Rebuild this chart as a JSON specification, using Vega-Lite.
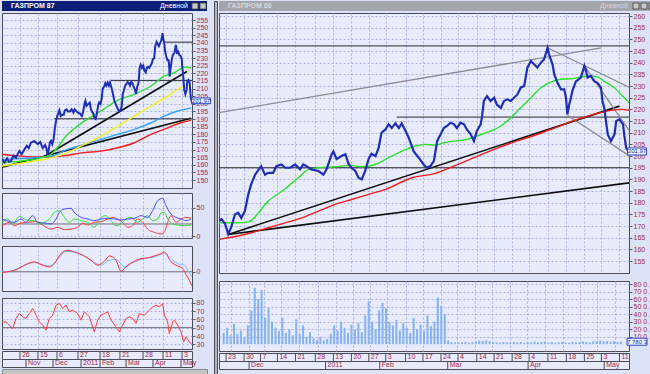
{
"$schema": "https://vega.github.io/schema/vega-lite/v6.json",
"background": "#dde3f6",
"padding": {"left": 1, "top": 0, "right": 0, "bottom": 0},
"spacing": 0,
"datasets": {
"px": [{"i":0,"v":163.8},{"i":2,"v":161.5},{"i":4,"v":164.2},{"i":5.5,"v":162},{"i":7.1,"v":162.5},{"i":9,"v":166},{"i":11,"v":164.6},{"i":12.5,"v":167.5},{"i":13.6,"v":169},{"i":15.5,"v":167},{"i":17.5,"v":170},{"i":19.5,"v":172.5},{"i":21,"v":171},{"i":22.7,"v":174.5},{"i":25.3,"v":175.6},{"i":28,"v":173.6},{"i":30,"v":175},{"i":31.9,"v":171},{"i":33,"v":172},
{"i":33.8,"v":173},{"i":34.8,"v":171},{"i":35.7,"v":166.6},{"i":36.5,"v":169.3},{"i":37.6,"v":175},{"i":38.5,"v":175.7},{"i":39.4,"v":173.5},{"i":40.4,"v":176.4},{"i":41.4,"v":183.7},{"i":42.2,"v":188},{"i":43.3,"v":192},{"i":45,"v":195.7},{"i":46.1,"v":192},{"i":47,"v":192.8},{"i":48.4,"v":192.8},{"i":49.3,"v":195.7},{"i":50.7,"v":196.4},{"i":51.8,"v":195},{"i":53.2,"v":195},{"i":54.6,"v":196.4},{"i":56,"v":194.3},{"i":56.9,"v":196.4},{"i":57.8,"v":195.7},{"i":59.2,"v":194.3},{"i":61.2,"v":193.6},{"i":62.6,"v":192},{"i":63.5,"v":194.4},{"i":64.9,"v":200.7},{"i":65.4,"v":202},{"i":66.3,"v":198.7},{"i":67.7,"v":200},{"i":68.8,"v":200.8},{"i":69.7,"v":196.6},{"i":70.5,"v":195},{"i":71.6,"v":193.6},{"i":72.5,"v":190.7},{"i":73.4,"v":190},{"i":74.4,"v":193.6},{"i":75.4,"v":199},{"i":76.2,"v":201},{"i":77.3,"v":200},{"i":78.2,"v":203.6},{"i":79,"v":210},{"i":80.1,"v":211.4},{"i":81,"v":213.6},{"i":81.9,"v":212},{"i":82.9,"v":214},{"i":83.9,"v":212},{"i":84.7,"v":214},{"i":85.8,"v":210.7},{"i":86.7,"v":207.8},{"i":88.1,"v":202},{"i":89.5,"v":199.3},{"i":90.9,"v":196.4},{"i":91.8,"v":195},{"i":92.8,"v":195.7},{"i":93.8,"v":197.9},{"i":94.7,"v":206.4},{"i":95.7,"v":209.3},{"i":96.6,"v":212},{"i":97.5,"v":212.9},{"i":98.5,"v":214.3},{"i":99.4,"v":213.7},{"i":100.3,"v":212},{"i":101.3,"v":214.3},{"i":102.3,"v":213.6},{"i":103.1,"v":211.4},{"i":104.2,"v":209.3},{"i":105.1,"v":206.4},{"i":105.9,"v":210.7},{"i":107,"v":213.6},{"i":107.4,"v":217},{"i":107.9,"v":223.6},{"i":108.8,"v":225.7},{"i":109.8,"v":223.6},{"i":110.8,"v":225},{"i":111.6,"v":222},{"i":112.7,"v":220.7},{"i":113.6,"v":223.6},{"i":114.5,"v":224.3},{"i":115.5,"v":223.6},{"i":116.4,"v":225},{"i":117.4,"v":226.4},{"i":118.3,"v":229.3},{"i":119.3,"v":230},{"i":120.2,"v":237.9},{"i":121.2,"v":240.7},{"i":122.1,"v":239.3},{"i":123,"v":237.9},{"i":124,"v":240},{"i":124.9,"v":241.4},{"i":125.9,"v":246.4},{"i":126.3,"v":243.6},{"i":127.3,"v":239.3},{"i":127.8,"v":235},{"i":128.7,"v":231.4},{"i":129.7,"v":228.6},{"i":130.6,"v":228.6},{"i":131.1,"v":225},{"i":131.5,"v":217.9},{"i":132,"v":222},{"i":132.5,"v":225},{"i":132.9,"v":227.9},{"i":133.9,"v":232},{"i":135.3,"v":233.6},{"i":136.3,"v":238.6},{"i":136.7,"v":237},{"i":137.2,"v":233.6},{"i":138.1,"v":234.3},{"i":139.1,"v":232},{"i":140,"v":231.4},{"i":141,"v":229.3},{"i":141.4,"v":223.6},{"i":141.9,"v":220.7},{"i":142.4,"v":215},{"i":142.9,"v":209.3},{"i":143.8,"v":206.4},{"i":144.8,"v":209.3},{"i":145.3,"v":215},{"i":146.2,"v":215.7},{"i":147.2,"v":213.6},{"i":147.6,"v":208.6},{"i":148.1,"v":203.6},{"i":148.9,"v":201.4}],
"maL": [{"s":"rL","i":0,"v":166.9},{"s":"rL","i":14.9,"v":165.7},{"s":"rL","i":30.6,"v":165.1},{"s":"rL","i":46.3,"v":165.7},{"s":"rL","i":64.5,"v":168},{"s":"rL","i":77.6,"v":169},{"s":"rL","i":90.7,"v":171.2},{"s":"rL","i":103.8,"v":174.5},{"s":"rL","i":116.9,"v":180},{"s":"rL","i":130,"v":184.3},{"s":"rL","i":140.4,"v":187.6},{"s":"rL","i":148.2,"v":189.2},
{"s":"bL","i":0,"v":163.6},{"s":"bL","i":25.3,"v":164.6},{"s":"bL","i":38.4,"v":165.7},{"s":"bL","i":51.5,"v":170.1},{"s":"bL","i":64.5,"v":173.4},{"s":"bL","i":77.6,"v":176.7},{"s":"bL","i":90.7,"v":180},{"s":"bL","i":103.8,"v":183.3},{"s":"bL","i":116.9,"v":187.6},{"s":"bL","i":127.3,"v":192},{"s":"bL","i":137.8,"v":195.3},{"s":"bL","i":148.2,"v":197.4},
{"s":"yL","i":0,"v":159.2},{"s":"yL","i":25.3,"v":162.5},{"s":"yL","i":38.4,"v":164.6},{"s":"yL","i":51.5,"v":168},{"s":"yL","i":64.5,"v":173.4},{"s":"yL","i":77.6,"v":178.9},{"s":"yL","i":90.7,"v":185.4},{"s":"yL","i":103.8,"v":192},{"s":"yL","i":116.9,"v":198.6},{"s":"yL","i":130,"v":205.1},{"s":"yL","i":140.4,"v":210.6},{"s":"yL","i":148.2,"v":212.1},
{"s":"gL","i":0,"v":161.4},{"s":"gL","i":14.9,"v":162.5},{"s":"gL","i":30.6,"v":164.6},{"s":"gL","i":38.4,"v":166.9},{"s":"gL","i":51.5,"v":180},{"s":"gL","i":64.5,"v":188.7},{"s":"gL","i":77.6,"v":195.3},{"s":"gL","i":89.4,"v":201.8},{"s":"gL","i":103.5,"v":206.2},{"s":"gL","i":116.9,"v":211.7},{"s":"gL","i":127.3,"v":218.2},{"s":"gL","i":135.1,"v":220.4},{"s":"gL","i":143,"v":224.1},{"s":"gL","i":148.2,"v":223.7}],
"maR": [{"s":"rR","i":33.1,"v":164.3},{"s":"rR","i":35.7,"v":165},{"s":"rR","i":40.4,"v":166.4},{"s":"rR","i":47,"v":169.3},{"s":"rR","i":51.8,"v":171.4},{"s":"rR","i":56.5,"v":173.5},{"s":"rR","i":61.2,"v":176.4},{"s":"rR","i":65.9,"v":179.3},{"s":"rR","i":70.6,"v":181.4},{"s":"rR","i":75.4,"v":183.6},{"s":"rR","i":80.1,"v":185.7},{"s":"rR","i":87.6,"v":190.7},{"s":"rR","i":94,"v":192.5},{"s":"rR","i":99.4,"v":195.7},{"s":"rR","i":105.1,"v":199.3},{"s":"rR","i":110.8,"v":202.9},{"s":"rR","i":116.4,"v":206},{"s":"rR","i":122.1,"v":208.8},{"s":"rR","i":127.8,"v":212},{"s":"rR","i":133.5,"v":215.3},{"s":"rR","i":139.2,"v":218},{"s":"rR","i":143.8,"v":219.6},{"s":"rR","i":146.7,"v":220},{"s":"rR","i":148.9,"v":219.6},
{"s":"gR","i":33.1,"v":171.4},{"s":"gR","i":38.5,"v":171.4},{"s":"gR","i":41.4,"v":171.8},{"s":"gR","i":47,"v":180.7},{"s":"gR","i":51.8,"v":186},{"s":"gR","i":55.5,"v":190.7},{"s":"gR","i":58.4,"v":194.3},{"s":"gR","i":61.2,"v":195},{"s":"gR","i":65.9,"v":195.4},{"s":"gR","i":70.5,"v":196},{"s":"gR","i":73.4,"v":195.4},{"s":"gR","i":77.3,"v":196.4},{"s":"gR","i":80.1,"v":198.6},{"s":"gR","i":84.7,"v":202},{"s":"gR","i":88.6,"v":204.3},{"s":"gR","i":91.4,"v":205},{"s":"gR","i":94.2,"v":204.7},{"s":"gR","i":96.6,"v":205.7},{"s":"gR","i":99.4,"v":206.4},{"s":"gR","i":103.1,"v":207.1},{"s":"gR","i":105.9,"v":208.6},{"s":"gR","i":109.8,"v":210.7},{"s":"gR","i":112.7,"v":212.9},{"s":"gR","i":115.5,"v":216.4},{"s":"gR","i":118.3,"v":220.7},{"s":"gR","i":121.2,"v":225},{"s":"gR","i":124,"v":229.3},{"s":"gR","i":126.8,"v":231.7},{"s":"gR","i":129.7,"v":232.9},{"s":"gR","i":132.5,"v":233.1},{"s":"gR","i":135.3,"v":233.9},{"s":"gR","i":138.1,"v":234.3},{"s":"gR","i":140,"v":233.9},{"s":"gR","i":141.9,"v":232},{"s":"gR","i":144.8,"v":229.3},{"s":"gR","i":147.1,"v":225.7},{"s":"gR","i":148.9,"v":222.9}],
"tlL": [{"id":"a","k":"b","i":33.2,"v":165.5},{"id":"a","k":"b","i":145,"v":221.2},{"id":"b","k":"b","i":0,"v":158.5},{"id":"b","k":"b","i":148.2,"v":190.5},{"id":"c","k":"h","i":40.8,"v":190.2},{"id":"c","k":"h","i":149,"v":190.2},{"id":"d","k":"h","i":85.5,"v":215.4},{"id":"d","k":"h","i":149,"v":215.4},{"id":"e","k":"h","i":127,"v":240.5},{"id":"e","k":"h","i":149,"v":240.5}],
"tlR": [{"id":"a","k":"b","i":35.7,"v":166.4},{"id":"a","k":"b","i":146.2,"v":221.4},{"id":"b","k":"b","i":35.7,"v":166.4},{"id":"b","k":"b","i":148.9,"v":188.5},{"id":"c","k":"h","i":33.1,"v":247.2},{"id":"c","k":"h","i":148.9,"v":247.2},{"id":"d","k":"h","i":33.1,"v":195},{"id":"d","k":"h","i":148.9,"v":195},{"id":"e","k":"h","i":83.3,"v":216.7},{"id":"e","k":"h","i":148.9,"v":216.7},{"id":"f","k":"g","i":33.1,"v":218.6},{"id":"f","k":"g","i":141,"v":246.4},{"id":"g","k":"g","i":125.9,"v":246.4},{"id":"g","k":"g","i":148.9,"v":229.5},{"id":"h","k":"g","i":136.3,"v":238.6},{"id":"h","k":"g","i":148.9,"v":211},{"id":"j","k":"g","i":131.5,"v":217.5},{"id":"j","k":"g","i":148.9,"v":200.2}],
"dmi": [{"s":"ref","i":0,"v":21.8},{"s":"ref","i":149,"v":21.8},
{"s":"dR","i":0,"v":17.6},{"s":"dR","i":5.8,"v":24.7},{"s":"dR","i":9.7,"v":18.8},{"s":"dR","i":14.9,"v":23.5},{"s":"dR","i":20.1,"v":24.7},{"s":"dR","i":25.4,"v":25.9},{"s":"dR","i":30.6,"v":21.8},{"s":"dR","i":34.5,"v":15.9},{"s":"dR","i":38.4,"v":12.9},{"s":"dR","i":43.7,"v":15.9},{"s":"dR","i":48.9,"v":11.8},{"s":"dR","i":54.1,"v":12.9},{"s":"dR","i":59.3,"v":15.9},{"s":"dR","i":63.3,"v":23.5},{"s":"dR","i":67.2,"v":20},{"s":"dR","i":72.4,"v":24.7},{"s":"dR","i":77.6,"v":25.9},{"s":"dR","i":82.9,"v":30.6},{"s":"dR","i":86.8,"v":33.5},{"s":"dR","i":90.7,"v":30.6},{"s":"dR","i":94.6,"v":24.7},{"s":"dR","i":98.6,"v":15.9},{"s":"dR","i":102.5,"v":18.8},{"s":"dR","i":106.4,"v":30.6},{"s":"dR","i":110.3,"v":24.7},{"s":"dR","i":114.2,"v":12.9},{"s":"dR","i":119.5,"v":7.1},{"s":"dR","i":124.7,"v":4.1},{"s":"dR","i":127.3,"v":7.1},{"s":"dR","i":129.9,"v":24.7},{"s":"dR","i":132.5,"v":36.5},{"s":"dR","i":136.5,"v":24.7},{"s":"dR","i":140.4,"v":30.6},{"s":"dR","i":144.3,"v":33.5},{"s":"dR","i":148.2,"v":31.8},
{"s":"dG","i":0,"v":24.7},{"s":"dG","i":4.4,"v":30.6},{"s":"dG","i":8.4,"v":21.8},{"s":"dG","i":13.6,"v":35.3},{"s":"dG","i":17.5,"v":30.6},{"s":"dG","i":21.4,"v":27.6},{"s":"dG","i":25.4,"v":27.6},{"s":"dG","i":29.3,"v":21.8},{"s":"dG","i":33.2,"v":24.7},{"s":"dG","i":38.4,"v":33.5},{"s":"dG","i":41,"v":42.3},{"s":"dG","i":45,"v":45.3},{"s":"dG","i":48.9,"v":33.5},{"s":"dG","i":52.8,"v":24.7},{"s":"dG","i":56.7,"v":30.6},{"s":"dG","i":62,"v":27.6},{"s":"dG","i":67.2,"v":24.7},{"s":"dG","i":72.4,"v":15.9},{"s":"dG","i":77.6,"v":33.5},{"s":"dG","i":81.6,"v":36.5},{"s":"dG","i":85.5,"v":27.6},{"s":"dG","i":89.4,"v":18.8},{"s":"dG","i":93.3,"v":21.8},{"s":"dG","i":97.3,"v":30.6},{"s":"dG","i":101.2,"v":33.5},{"s":"dG","i":106.4,"v":24.7},{"s":"dG","i":110.3,"v":30.6},{"s":"dG","i":114.2,"v":36.5},{"s":"dG","i":118.2,"v":27.6},{"s":"dG","i":122.1,"v":30.6},{"s":"dG","i":124.7,"v":41.2},{"s":"dG","i":127.3,"v":42.3},{"s":"dG","i":129.9,"v":30.6},{"s":"dG","i":133.9,"v":21.8},{"s":"dG","i":137.8,"v":20},{"s":"dG","i":143,"v":18.8},{"s":"dG","i":148.2,"v":20},
{"s":"dB","i":0,"v":30.6},{"s":"dB","i":9.7,"v":24.7},{"s":"dB","i":14.9,"v":30.6},{"s":"dB","i":18.8,"v":24.7},{"s":"dB","i":24.1,"v":36.5},{"s":"dB","i":28,"v":24.7},{"s":"dB","i":33.2,"v":23.5},{"s":"dB","i":38.4,"v":21.8},{"s":"dB","i":42.4,"v":30.6},{"s":"dB","i":45,"v":42.3},{"s":"dB","i":48.9,"v":48.2},{"s":"dB","i":54.1,"v":49.4},{"s":"dB","i":56.7,"v":42.3},{"s":"dB","i":62,"v":33.5},{"s":"dB","i":67.2,"v":30.6},{"s":"dB","i":72.4,"v":27.6},{"s":"dB","i":77.6,"v":30.6},{"s":"dB","i":82.9,"v":31.8},{"s":"dB","i":88.1,"v":30.6},{"s":"dB","i":93.3,"v":28.8},{"s":"dB","i":98.6,"v":30.6},{"s":"dB","i":103.8,"v":31.8},{"s":"dB","i":109,"v":36.5},{"s":"dB","i":114.2,"v":33.5},{"s":"dB","i":118.2,"v":45.3},{"s":"dB","i":122.1,"v":62.9},{"s":"dB","i":126,"v":67},{"s":"dB","i":128.6,"v":54.1},{"s":"dB","i":132.5,"v":39.4},{"s":"dB","i":136.5,"v":33.5},{"s":"dB","i":140.4,"v":30.6},{"s":"dB","i":144.3,"v":27.6},{"s":"dB","i":148.2,"v":30.6}],
"macd": [{"s":"ref","i":0,"v":0},{"s":"ref","i":149,"v":0},
{"s":"mB","i":0,"v":0},{"s":"mB","i":7.1,"v":2},{"s":"mB","i":14.9,"v":15},{"s":"mB","i":25.4,"v":28},{"s":"mB","i":33.2,"v":20},{"s":"mB","i":38.4,"v":18},{"s":"mB","i":43.7,"v":38},{"s":"mB","i":50.2,"v":62},{"s":"mB","i":56.7,"v":60},{"s":"mB","i":64.6,"v":48},{"s":"mB","i":72.4,"v":28},{"s":"mB","i":77.6,"v":20},{"s":"mB","i":82.9,"v":32},{"s":"mB","i":89.4,"v":38},{"s":"mB","i":95.9,"v":15},{"s":"mB","i":103.8,"v":30},{"s":"mB","i":111.6,"v":40},{"s":"mB","i":119.5,"v":45},{"s":"mB","i":127.3,"v":55},{"s":"mB","i":132.5,"v":40},{"s":"mB","i":137.8,"v":25},{"s":"mB","i":143,"v":20},{"s":"mB","i":145.6,"v":5},{"s":"mB","i":148.8,"v":-15},
{"s":"mR","i":0,"v":-2},{"s":"mR","i":7.1,"v":2},{"s":"mR","i":12.3,"v":8},{"s":"mR","i":17.5,"v":20},{"s":"mR","i":25.4,"v":30},{"s":"mR","i":30.6,"v":22},{"s":"mR","i":37.1,"v":15},{"s":"mR","i":41,"v":25},{"s":"mR","i":46.3,"v":55},{"s":"mR","i":51.5,"v":65},{"s":"mR","i":56.7,"v":60},{"s":"mR","i":63.3,"v":50},{"s":"mR","i":69.8,"v":35},{"s":"mR","i":75,"v":20},{"s":"mR","i":80.3,"v":32},{"s":"mR","i":84.2,"v":48},{"s":"mR","i":89.4,"v":35},{"s":"mR","i":93.3,"v":2},{"s":"mR","i":98.6,"v":20},{"s":"mR","i":103.8,"v":32},{"s":"mR","i":109,"v":40},{"s":"mR","i":114.2,"v":42},{"s":"mR","i":119.5,"v":48},{"s":"mR","i":124.7,"v":55},{"s":"mR","i":127.3,"v":60},{"s":"mR","i":132.5,"v":30},{"s":"mR","i":137.8,"v":18},{"s":"mR","i":141.7,"v":10},{"s":"mR","i":144.3,"v":-8},{"s":"mR","i":146.9,"v":-25},{"s":"mR","i":148.8,"v":-42}],
"rsi": [{"s":"ref","i":0,"v":50},{"s":"ref","i":149,"v":50},
{"s":"rsi","i":0,"v":57},{"s":"rsi","i":3.1,"v":57},{"s":"rsi","i":5.8,"v":53},{"s":"rsi","i":8.4,"v":49},{"s":"rsi","i":11,"v":61},{"s":"rsi","i":13.6,"v":67},{"s":"rsi","i":16.2,"v":63},{"s":"rsi","i":18.8,"v":61},{"s":"rsi","i":21.4,"v":67},{"s":"rsi","i":24.1,"v":73},{"s":"rsi","i":26.7,"v":65},{"s":"rsi","i":29.3,"v":57},{"s":"rsi","i":31.9,"v":53},{"s":"rsi","i":34.5,"v":47},{"s":"rsi","i":37.1,"v":61},{"s":"rsi","i":39.7,"v":65},{"s":"rsi","i":42.4,"v":77},{"s":"rsi","i":45,"v":79},{"s":"rsi","i":47.6,"v":73},{"s":"rsi","i":50.2,"v":77},{"s":"rsi","i":52.8,"v":69},{"s":"rsi","i":55.4,"v":71},{"s":"rsi","i":59.3,"v":67},{"s":"rsi","i":62,"v":59},{"s":"rsi","i":64.6,"v":69},{"s":"rsi","i":68.5,"v":63},{"s":"rsi","i":72.4,"v":45},{"s":"rsi","i":75,"v":59},{"s":"rsi","i":77.6,"v":65},{"s":"rsi","i":80.3,"v":67},{"s":"rsi","i":82.9,"v":69},{"s":"rsi","i":85.5,"v":59},{"s":"rsi","i":89.4,"v":51},{"s":"rsi","i":92,"v":45},{"s":"rsi","i":94.6,"v":53},{"s":"rsi","i":97.3,"v":61},{"s":"rsi","i":99.9,"v":63},{"s":"rsi","i":102.5,"v":61},{"s":"rsi","i":105.1,"v":55},{"s":"rsi","i":107.7,"v":67},{"s":"rsi","i":111.6,"v":65},{"s":"rsi","i":115.6,"v":71},{"s":"rsi","i":118.2,"v":75},{"s":"rsi","i":120.8,"v":77},{"s":"rsi","i":123.4,"v":75},{"s":"rsi","i":126,"v":79},{"s":"rsi","i":127.3,"v":65},{"s":"rsi","i":129.9,"v":57},{"s":"rsi","i":131.2,"v":43},{"s":"rsi","i":133.9,"v":57},{"s":"rsi","i":135.2,"v":59},{"s":"rsi","i":137.8,"v":53},{"s":"rsi","i":140.4,"v":45},{"s":"rsi","i":142.5,"v":33},{"s":"rsi","i":144.3,"v":39},{"s":"rsi","i":146.9,"v":33},{"s":"rsi","i":148.8,"v":30}],
"vol": [{"i":33,"m":15},{"i":34,"m":22},{"i":35,"m":12},{"i":36,"m":27},{"i":37,"m":14},{"i":38,"m":18},{"i":39,"m":10},{"i":40,"m":25},{"i":41,"m":45},{"i":42,"m":75},{"i":43,"m":60},{"i":44,"m":72},{"i":45,"m":35},{"i":46,"m":48},{"i":47,"m":30},{"i":48,"m":22},{"i":49,"m":18},{"i":50,"m":35},{"i":51,"m":15},{"i":52,"m":20},{"i":53,"m":12},{"i":54,"m":33},{"i":55,"m":14},{"i":56,"m":25},{"i":57,"m":10},{"i":58,"m":16},{"i":59,"m":8},{"i":60,"m":6},{"i":61,"m":10},{"i":62,"m":5},{"i":63,"m":7},{"i":64,"m":14},{"i":65,"m":25},{"i":66,"m":18},{"i":67,"m":30},{"i":68,"m":22},{"i":69,"m":15},{"i":70,"m":26},{"i":71,"m":19},{"i":72,"m":28},{"i":73,"m":16},{"i":74,"m":38},{"i":75,"m":57},{"i":76,"m":30},{"i":77,"m":20},{"i":78,"m":45},{"i":79,"m":55},{"i":80,"m":48},{"i":81,"m":30},{"i":82,"m":25},{"i":83,"m":32},{"i":84,"m":18},{"i":85,"m":28},{"i":86,"m":22},{"i":87,"m":15},{"i":88,"m":35},{"i":89,"m":20},{"i":90,"m":26},{"i":91,"m":18},{"i":92,"m":38},{"i":93,"m":24},{"i":94,"m":30},{"i":95,"m":62},{"i":96,"m":51},{"i":97,"m":40},{"i":98,"m":5},{"i":99,"m":3},{"i":100,"m":2.5},{"i":101,"m":2},{"i":102,"m":2.5},{"i":103,"m":3},{"i":104,"m":2},{"i":105,"m":3},{"i":106,"m":4},{"i":107,"m":5},{"i":108,"m":4.5},{"i":109,"m":5},{"i":110,"m":4},{"i":111,"m":3},{"i":112,"m":2.5},{"i":113,"m":2},{"i":114,"m":3},{"i":115,"m":2.5},{"i":116,"m":2},{"i":117,"m":3},{"i":118,"m":2.5},{"i":119,"m":3},{"i":120,"m":2},{"i":121,"m":3},{"i":122,"m":2.5},{"i":123,"m":3.5},{"i":124,"m":2.5},{"i":125,"m":3},{"i":126,"m":3.5},{"i":127,"m":2.5},{"i":128,"m":3},{"i":129,"m":2},{"i":130,"m":2.5},{"i":131,"m":3},{"i":132,"m":2.5},{"i":133,"m":2},{"i":134,"m":3},{"i":135,"m":2.5},{"i":136,"m":3},{"i":137,"m":3.5},{"i":138,"m":3},{"i":139,"m":2.5},{"i":140,"m":4},{"i":141,"m":4.5},{"i":142,"m":5},{"i":143,"m":4},{"i":144,"m":4.5},{"i":145,"m":3.5},{"i":146,"m":4},{"i":147,"m":3},{"i":148,"m":3.5}],
"dayL": [{"i":14.1,"t":"26"},{"i":28.2,"t":"15"},{"i":43.1,"t":"6"},{"i":59.6,"t":"27"},{"i":76.9,"t":"18"},{"i":92.5,"t":"21"},{"i":110.6,"t":"28"},{"i":126.3,"t":"11"},{"i":141.2,"t":"3"}],
"monL": [{"i":18.8,"t":"Nov"},{"i":40,"t":"Dec"},{"i":62,"t":"2011"},{"i":76.9,"t":"Feb"},{"i":97.3,"t":"Mar"},{"i":118.4,"t":"Apr"},{"i":140.4,"t":"May"}],
"dayR": [{"i":35.1,"t":"23"},{"i":40.2,"t":"30"},{"i":44.8,"t":"7"},{"i":49.6,"t":"14"},{"i":54.7,"t":"21"},{"i":60.3,"t":"28"},{"i":65.4,"t":"13"},{"i":70.5,"t":"20"},{"i":75.4,"t":"27"},{"i":80.2,"t":"3"},{"i":85.8,"t":"10"},{"i":90.7,"t":"17"},{"i":95.8,"t":"24"},{"i":100.6,"t":"4"},{"i":105.9,"t":"14"},{"i":110.8,"t":"21"},{"i":115.9,"t":"28"},{"i":120.7,"t":"4"},{"i":126,"t":"11"},{"i":131.2,"t":"18"},{"i":136.3,"t":"25"},{"i":141.1,"t":"3"},{"i":146.2,"t":"11"}],
"monR": [{"i":41.6,"t":"Dec"},{"i":63.2,"t":"2011"},{"i":78.5,"t":"Feb"},{"i":97.7,"t":"Mar"},{"i":120.4,"t":"Apr"},{"i":141.9,"t":"May"}]
},
"hconcat": [
{"bounds": "flush", "spacing": 2, "vconcat": [
  {"width": 205, "height": 10, "view": {"fill": "#0b1e78", "stroke": null},
   "encoding": {"x": {"field": "p", "type": "quantitative", "scale": {"domain": [0, 1]}, "axis": null}},
   "layer": [
    {"data": {"values": [{"p": 0, "t": "ГАЗПРОМ 87"}]}, "mark": {"type": "text", "align": "left", "dx": 9, "color": "#ffffff", "fontSize": 7, "fontWeight": "bold"}, "encoding": {"text": {"field": "t"}}},
    {"data": {"values": [{"p": 1, "t": "Дневной"}]}, "mark": {"type": "text", "align": "right", "dx": -19, "color": "#ffffff", "fontSize": 7}, "encoding": {"text": {"field": "t"}}},
    {"data": {"values": [{"p": 1}]}, "mark": {"type": "point", "shape": "square", "size": 36, "filled": true, "fill": "#c8c8cc", "stroke": "#404040", "strokeWidth": 0.8, "opacity": 1, "xOffset": -12}},
    {"data": {"values": [{"p": 1}]}, "mark": {"type": "point", "shape": "square", "size": 36, "filled": true, "fill": "#c8c8cc", "stroke": "#404040", "strokeWidth": 0.8, "opacity": 1, "xOffset": -4}}
   ]},
  {"bounds": "flush", "spacing": 5, "vconcat": [
    {"width": 190, "height": 175,
     "encoding": {
       "x": {"field": "i", "type": "quantitative", "scale": {"domain": [0, 149], "nice": false, "zero": false}, "axis": {"values": [14.1,28.2,43.1,59.6,76.9,92.5,110.6,126.3,141.2], "labels": false, "ticks": false, "domain": false, "grid": true, "title": null}},
       "y": {"field": "v", "type": "quantitative", "scale": {"domain": [144.8, 259.6], "nice": false, "zero": false}, "axis": {"orient": "right", "values": [150,155,160,165,170,175,180,185,190,195,200,205,210,215,220,225,230,235,240,245,250,255], "grid": true, "title": null, "minExtent": 14, "maxExtent": 16}}},
     "layer": [
      {"data": {"name": "tlL"}, "mark": {"type": "line", "clip": true}, "encoding": {"detail": {"field": "id"}, "stroke": {"field": "k", "type": "nominal", "scale": {"domain": ["b","g","h"], "range": ["#0d0d0d","#8c8c94","#2a2a2a"]}, "legend": null}, "strokeWidth": {"field": "k", "type": "ordinal", "scale": {"domain": ["b","g","h"], "range": [1.6,1,1.2]}, "legend": null}}},
      {"data": {"name": "maL"}, "mark": {"type": "line", "interpolate": "monotone", "strokeWidth": 1.4, "clip": true}, "encoding": {"color": {"field": "s", "type": "nominal", "scale": {"domain": ["gL","yL","bL","rL","gR","rR","dB","dG","dR","mR","mB","rsi","ref"], "range": ["#2de02d","#f2f21a","#38a0ff","#f01c1c","#2de02d","#f01c1c","#4a4aff","#38d838","#ff3a3a","#ff3030","#7ab8ff","#ff3a3a","#6c6c78"]}, "legend": null}}},
      {"data": {"name": "px"}, "mark": {"type": "line", "color": "#1f2db4", "strokeWidth": 2, "clip": true}},
      {"data": {"values": [{"i": 149, "v": 201.97}]}, "mark": {"type": "point", "shape": "M-1,-0.3H1V0.3H-1Z", "size": 361, "filled": true, "fill": "#eef2ff", "stroke": "#3048c8", "strokeWidth": 1, "opacity": 1, "xOffset": 9}},
      {"data": {"values": [{"i": 149, "v": 201.97, "t": "201.97"}]}, "mark": {"type": "text", "fontSize": 6, "color": "#1a2a90", "xOffset": 9}, "encoding": {"text": {"field": "t"}}}
     ]},
    {"bounds": "flush", "spacing": 8, "vconcat": [
      {"width": 190, "height": 45, "data": {"name": "dmi"},
       "mark": {"type": "line", "interpolate": "monotone", "strokeWidth": 1, "clip": true},
       "encoding": {
         "x": {"field": "i", "type": "quantitative", "scale": {"domain": [0, 149], "nice": false, "zero": false}, "axis": {"values": [14.1,28.2,43.1,59.6,76.9,92.5,110.6,126.3,141.2], "labels": false, "ticks": false, "domain": false, "grid": true, "title": null}},
         "y": {"field": "v", "type": "quantitative", "scale": {"domain": [-2.9, 76.4], "nice": false, "zero": false}, "axis": {"orient": "right", "values": [0, 50], "grid": true, "title": null, "minExtent": 14, "maxExtent": 16}},
         "color": {"field": "s", "type": "nominal", "scale": {"domain": ["gL","yL","bL","rL","gR","rR","dB","dG","dR","mR","mB","rsi","ref"], "range": ["#2de02d","#f2f21a","#38a0ff","#f01c1c","#2de02d","#f01c1c","#4a4aff","#38d838","#ff3a3a","#ff3030","#7ab8ff","#ff3a3a","#6c6c78"]}, "legend": null}}},
      {"bounds": "flush", "spacing": 7, "vconcat": [
        {"width": 190, "height": 45, "data": {"name": "macd"},
         "mark": {"type": "line", "interpolate": "monotone", "strokeWidth": 1, "clip": true},
         "encoding": {
           "x": {"field": "i", "type": "quantitative", "scale": {"domain": [0, 149], "nice": false, "zero": false}, "axis": {"values": [14.1,28.2,43.1,59.6,76.9,92.5,110.6,126.3,141.2], "labels": false, "ticks": false, "domain": false, "grid": true, "title": null}},
           "y": {"field": "v", "type": "quantitative", "scale": {"domain": [-58, 78], "nice": false, "zero": false}, "axis": {"orient": "right", "values": [0], "grid": false, "title": null, "minExtent": 14, "maxExtent": 16}},
           "color": {"field": "s", "type": "nominal", "scale": {"domain": ["gL","yL","bL","rL","gR","rR","dB","dG","dR","mR","mB","rsi","ref"], "range": ["#2de02d","#f2f21a","#38a0ff","#f01c1c","#2de02d","#f01c1c","#4a4aff","#38d838","#ff3a3a","#ff3030","#7ab8ff","#ff3a3a","#6c6c78"]}, "legend": null}}},
        {"bounds": "flush", "spacing": 2, "vconcat": [
          {"width": 190, "height": 51, "data": {"name": "rsi"},
           "mark": {"type": "line", "strokeWidth": 1, "clip": true},
           "encoding": {
             "x": {"field": "i", "type": "quantitative", "scale": {"domain": [0, 149], "nice": false, "zero": false}, "axis": {"values": [14.1,28.2,43.1,59.6,76.9,92.5,110.6,126.3,141.2], "labels": false, "ticks": false, "domain": false, "grid": true, "title": null}},
             "y": {"field": "v", "type": "quantitative", "scale": {"domain": [24.4, 85.6], "nice": false, "zero": false}, "axis": {"orient": "right", "values": [30,40,50,60,70,80], "grid": true, "title": null, "minExtent": 14, "maxExtent": 16}},
             "color": {"field": "s", "type": "nominal", "scale": {"domain": ["gL","yL","bL","rL","gR","rR","dB","dG","dR","mR","mB","rsi","ref"], "range": ["#2de02d","#f2f21a","#38a0ff","#f01c1c","#2de02d","#f01c1c","#4a4aff","#38d838","#ff3a3a","#ff3030","#7ab8ff","#ff3a3a","#6c6c78"]}, "legend": null}}},
          {"bounds": "flush", "spacing": 0, "vconcat": [
            {"width": 190, "height": 8, "data": {"name": "dayL"},
             "encoding": {"x": {"field": "i", "type": "quantitative", "scale": {"domain": [0, 149], "nice": false, "zero": false}, "axis": null}},
             "layer": [
              {"mark": {"type": "rule", "color": "#4c4c58"}, "encoding": {}},
              {"mark": {"type": "text", "align": "left", "dx": 2, "fontSize": 7, "color": "#a3284c", "baseline": "middle"}, "encoding": {"text": {"field": "t"}}}
             ]},
            {"bounds": "flush", "spacing": 2, "vconcat": [
              {"width": 190, "height": 8, "data": {"name": "monL"},
               "encoding": {"x": {"field": "i", "type": "quantitative", "scale": {"domain": [0, 149], "nice": false, "zero": false}, "axis": null}},
               "layer": [
                {"mark": {"type": "rule", "color": "#4c4c58"}, "encoding": {}},
                {"mark": {"type": "text", "align": "left", "dx": 2, "fontSize": 7, "color": "#a3284c", "baseline": "middle"}, "encoding": {"text": {"field": "t"}}}
               ]},
              {"width": 205, "height": 6, "view": {"fill": "#c4c4c8", "stroke": "#8a8a90"}, "data": {"values": [{}]}, "mark": {"type": "text", "text": ""}}
            ]}
          ]}
        ]}
      ]}
    ]}
  ]}
]},
{"width": 3, "height": 374, "view": {"fill": "#b4b4bc", "stroke": "#50505a"}, "data": {"values": [{}]}, "mark": {"type": "text", "text": ""}},
{"bounds": "flush", "spacing": 2, "vconcat": [
  {"width": 437, "height": 10, "view": {"fill": "#a4a4ac", "stroke": null},
   "encoding": {"x": {"field": "p", "type": "quantitative", "scale": {"domain": [0, 1]}, "axis": null}},
   "layer": [
    {"data": {"values": [{"p": 0, "t": "ГАЗПРОМ 86"}]}, "mark": {"type": "text", "align": "left", "dx": 9, "color": "#d6d6de", "fontSize": 7, "fontWeight": "bold"}, "encoding": {"text": {"field": "t"}}},
    {"data": {"values": [{"p": 1, "t": "Дневной"}]}, "mark": {"type": "text", "align": "right", "dx": -28, "color": "#d6d6de", "fontSize": 7}, "encoding": {"text": {"field": "t"}}},
    {"data": {"values": [{"p": 1}]}, "mark": {"type": "point", "shape": "square", "size": 36, "filled": true, "fill": "#c8c8cc", "stroke": "#404040", "strokeWidth": 0.8, "opacity": 1, "xOffset": -20}},
    {"data": {"values": [{"p": 1}]}, "mark": {"type": "point", "shape": "square", "size": 36, "filled": true, "fill": "#c8c8cc", "stroke": "#404040", "strokeWidth": 0.8, "opacity": 1, "xOffset": -12}},
    {"data": {"values": [{"p": 1}]}, "mark": {"type": "point", "shape": "square", "size": 36, "filled": true, "fill": "#c8c8cc", "stroke": "#404040", "strokeWidth": 0.8, "opacity": 1, "xOffset": -4}}
   ]},
  {"bounds": "flush", "spacing": 8, "vconcat": [
    {"width": 410, "height": 260,
     "encoding": {
       "x": {"field": "i", "type": "quantitative", "scale": {"domain": [33.1, 148.9], "nice": false, "zero": false}, "axis": {"values": [35.1,40.2,44.8,49.6,54.7,60.3,65.4,70.5,75.4,80.2,85.8,90.7,95.8,100.6,105.9,110.8,115.9,120.7,126,131.2,136.3,141.1,146.2], "labels": false, "ticks": false, "domain": false, "grid": true, "title": null}},
       "y": {"field": "v", "type": "quantitative", "scale": {"domain": [149.9, 261.3], "nice": false, "zero": false}, "axis": {"orient": "right", "values": [155,160,165,170,175,180,185,190,195,200,205,210,215,220,225,230,235,240,245,250,255,260], "grid": true, "title": null, "minExtent": 16, "maxExtent": 20}}},
     "layer": [
      {"data": {"name": "tlR"}, "mark": {"type": "line", "clip": true}, "encoding": {"detail": {"field": "id"}, "stroke": {"field": "k", "type": "nominal", "scale": {"domain": ["b","g","h"], "range": ["#0d0d0d","#8c8c94","#2a2a2a"]}, "legend": null}, "strokeWidth": {"field": "k", "type": "ordinal", "scale": {"domain": ["b","g","h"], "range": [1.6,1,1.2]}, "legend": null}}},
      {"data": {"name": "maR"}, "mark": {"type": "line", "interpolate": "monotone", "strokeWidth": 1.4, "clip": true}, "encoding": {"color": {"field": "s", "type": "nominal", "scale": {"domain": ["gL","yL","bL","rL","gR","rR","dB","dG","dR","mR","mB","rsi","ref"], "range": ["#2de02d","#f2f21a","#38a0ff","#f01c1c","#2de02d","#f01c1c","#4a4aff","#38d838","#ff3a3a","#ff3030","#7ab8ff","#ff3a3a","#6c6c78"]}, "legend": null}}},
      {"data": {"name": "px"}, "mark": {"type": "line", "color": "#1f2db4", "strokeWidth": 2.2, "clip": true}},
      {"data": {"values": [{"i": 148.9, "v": 201.97}]}, "mark": {"type": "point", "shape": "M-1,-0.37H1V0.37H-1Z", "size": 361, "filled": true, "fill": "#eef2ff", "stroke": "#3048c8", "strokeWidth": 1, "opacity": 1, "xOffset": 8}},
      {"data": {"values": [{"i": 148.9, "v": 201.97, "t": "201.97"}]}, "mark": {"type": "text", "fontSize": 6, "color": "#1a2a90", "xOffset": 8}, "encoding": {"text": {"field": "t"}}}
     ]},
    {"bounds": "flush", "spacing": 2, "vconcat": [
      {"width": 410, "height": 70,
       "encoding": {
         "x": {"field": "i", "type": "quantitative", "scale": {"domain": [33.1, 148.9], "nice": false, "zero": false}, "axis": {"values": [35.1,40.2,44.8,49.6,54.7,60.3,65.4,70.5,75.4,80.2,85.8,90.7,95.8,100.6,105.9,110.8,115.9,120.7,126,131.2,136.3,141.1,146.2], "labels": false, "ticks": false, "domain": false, "grid": true, "title": null}},
         "y": {"field": "m", "type": "quantitative", "scale": {"domain": [-9, 84], "nice": false, "zero": false}, "axis": {"orient": "right", "values": [10,20,30,40,50,60,70,80], "labelExpr": "datum.value + ' 000 000'", "labelLimit": 24, "grid": true, "title": null, "minExtent": 16, "maxExtent": 25}}},
       "layer": [
        {"data": {"name": "vol"}, "mark": {"type": "bar", "color": "#86b2f0", "size": 2, "clip": true}, "encoding": {"y2": {"datum": 0}}},
        {"data": {"values": [{"i": 148.9, "m": 3.3}]}, "mark": {"type": "point", "shape": "M-1,-0.35H1V0.35H-1Z", "size": 400, "filled": true, "fill": "#eef2ff", "stroke": "#3048c8", "strokeWidth": 1, "opacity": 1, "xOffset": 13}},
        {"data": {"values": [{"i": 148.9, "m": 3.3, "t": "7 780 3"}]}, "mark": {"type": "text", "fontSize": 6, "color": "#1a2a90", "xOffset": 13}, "encoding": {"text": {"field": "t"}}}
       ]},
      {"bounds": "flush", "spacing": 0, "vconcat": [
        {"width": 410, "height": 8, "data": {"name": "dayR"},
         "encoding": {"x": {"field": "i", "type": "quantitative", "scale": {"domain": [33.1, 148.9], "nice": false, "zero": false}, "axis": null}},
         "layer": [
          {"mark": {"type": "rule", "color": "#4c4c58"}, "encoding": {}},
          {"mark": {"type": "text", "align": "left", "dx": 2, "fontSize": 7, "color": "#a3284c", "baseline": "middle"}, "encoding": {"text": {"field": "t"}}}
         ]},
        {"width": 410, "height": 8, "data": {"name": "monR"},
         "encoding": {"x": {"field": "i", "type": "quantitative", "scale": {"domain": [33.1, 148.9], "nice": false, "zero": false}, "axis": null}},
         "layer": [
          {"mark": {"type": "rule", "color": "#4c4c58"}, "encoding": {}},
          {"mark": {"type": "text", "align": "left", "dx": 2, "fontSize": 7, "color": "#a3284c", "baseline": "middle"}, "encoding": {"text": {"field": "t"}}}
         ]}
      ]}
    ]}
  ]}
]}
],
"config": {
  "view": {"stroke": "#4c4c58", "strokeWidth": 1, "fill": "#e7ebfb"},
  "axis": {"labelFont": "Liberation Sans", "labelFontSize": 7, "labelColor": "#a3284c", "tickColor": "#5a5a66", "tickSize": 3, "labelPadding": 1, "gridColor": "#aab2e2", "gridDash": [2, 2], "gridWidth": 1, "domain": false, "labelOverlap": false},
  "text": {"font": "Liberation Sans"}
}
}
